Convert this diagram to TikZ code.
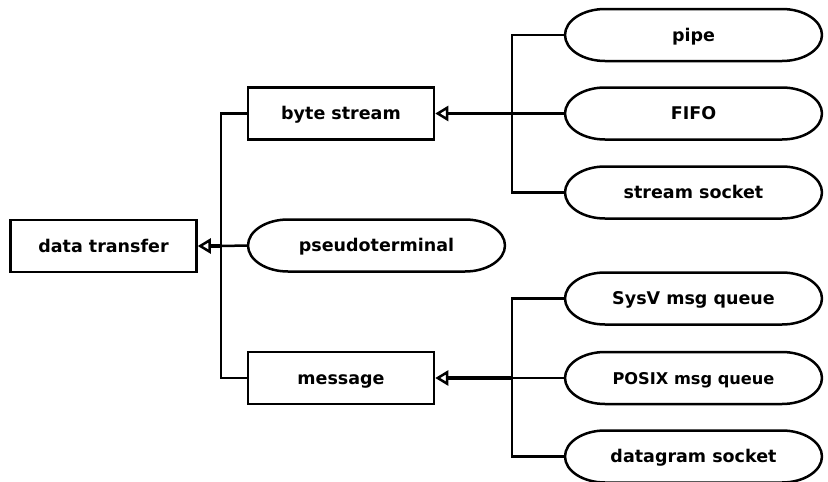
\documentclass[tikz,border=0pt]{standalone}
\usepackage{fontspec}
\setmainfont{DejaVu Sans}
\usetikzlibrary{arrows.meta}
\begin{document}
\begin{tikzpicture}[x=1pt,y=-1pt,
  every node/.style={font=\fontsize{17.5}{20}\selectfont\bfseries, line width=2.5pt, inner sep=0pt, text height=13pt, text depth=1pt},
  boxnode/.style={draw, rectangle, minimum width=186pt, minimum height=52pt},
  pill/.style={rectangle, outer sep=0pt, minimum width=257pt, minimum height=52pt},
  outline/.style={line width=2.5pt, line join=round},
  link/.style={line width=2.5pt},
  inherit/.style={line width=3.5pt, -{Triangle[open,length=13pt,width=15pt,line width=2.5pt]}}]
\useasboundingbox (0,0) rectangle (828,482);
\node[boxnode] (dt) at (103.5,246) {data transfer};
\node[boxnode] (bs) at (341,113.5) {byte stream};
\node[boxnode] (msg) at (341,378) {message};
\node[pill] (pt) at (376.5,245.5) {pseudoterminal};
\node[pill] (pipe) at (693.5,35) {pipe};
\node[pill] (fifo) at (693.5,113.5) {FIFO};
\node[pill] (ss) at (693.5,192.5) {stream socket};
\node[pill] (sysv) at (693.5,298.5) {SysV msg queue};
\node[pill,font=\fontsize{16.2}{19}\selectfont\bfseries] (posix) at (693.5,378) {POSIX msg queue};
\node[pill] (dg) at (693.5,456.5) {datagram socket};
\foreach \n in {pt,pipe,fifo,ss,sysv,posix,dg}{
  \draw[outline] ([xshift=40pt]\n.north west) -- ([xshift=-40pt]\n.north east)
    arc[start angle=90,end angle=-90,x radius=40pt,y radius=26pt]
    -- ([xshift=40pt]\n.south west)
    arc[start angle=270,end angle=90,x radius=40pt,y radius=26pt] -- cycle;
}
% left bus
\coordinate (lb) at (221,246);
\draw[link] (bs.west) -| (lb) |- (msg.west);
\draw[link] (pt.west) -- (lb);
\draw[inherit] (lb) -- (dt.east);
% upper right bus
\coordinate (rb1) at (512,113.5);
\draw[link] (pipe.west) -| (rb1) |- (ss.west);
\draw[link] (fifo.west) -- (rb1);
\draw[inherit] (rb1) -- (bs.east);
% lower right bus
\coordinate (rb2) at (512,378);
\draw[link] (sysv.west) -| (rb2) |- (dg.west);
\draw[link] (posix.west) -- (rb2);
\draw[inherit] (rb2) -- (msg.east);
\end{tikzpicture}
\end{document}
